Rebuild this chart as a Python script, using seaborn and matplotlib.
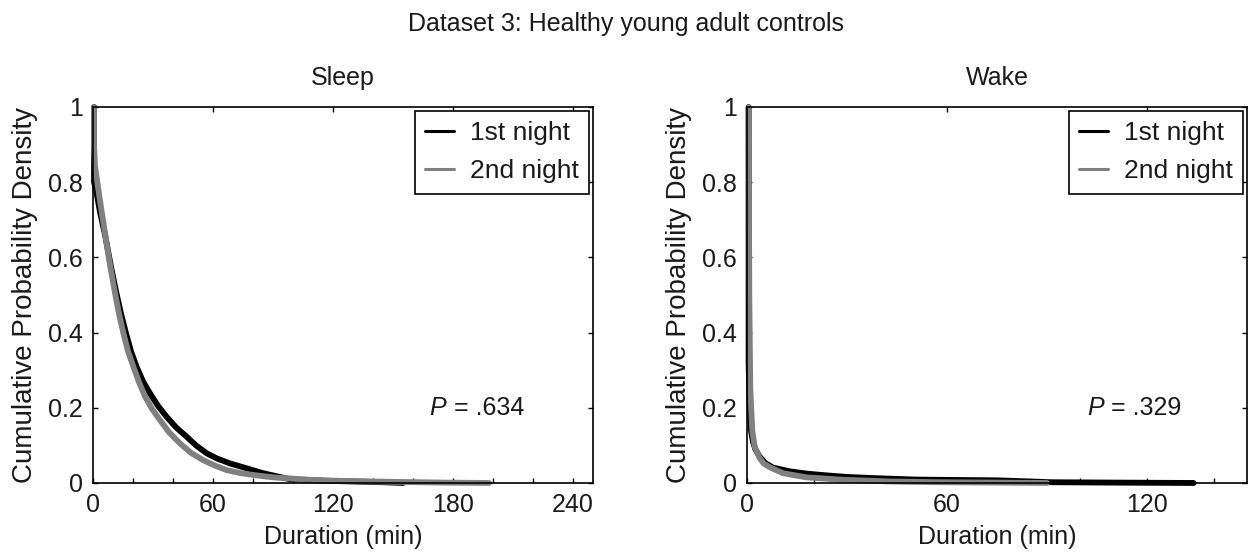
import pandas as pd
import seaborn as sb
import matplotlib.pyplot as plt
from matplotlib.ticker import MultipleLocator

# survival curves (1 - CDF) of bout durations
sleep_n1_x = [0.5, 0.5, 1.5, 3.5, 6, 9, 11.5, 14, 16.5, 19, 21.8, 25, 28.5, 32.5, 36.8, 41.5,
              46.8, 51.5, 56.8, 62, 68.5, 76.8, 85, 98.5, 115, 130, 145, 155]
sleep_n1_y = [1.0, 0.80, 0.78, 0.72, 0.66, 0.575, 0.51, 0.45, 0.398, 0.35, 0.309, 0.27, 0.238,
              0.205, 0.176, 0.148, 0.123, 0.1, 0.079, 0.065, 0.052, 0.039, 0.026, 0.01, 0.006,
              0.004, 0.002, 0.0]
sleep_n2_x = [0.5, 0.5, 1, 3.5, 6, 8.5, 11, 13, 15.2, 17.5, 20.2, 23, 26, 29.5, 33.5, 38, 43.5,
              49, 55, 61, 67, 74, 82, 90, 98.5, 110, 127, 150, 175, 198]
sleep_n2_y = [1.0, 0.9, 0.842, 0.75, 0.664, 0.58, 0.505, 0.45, 0.398, 0.35, 0.309, 0.268, 0.23,
              0.197, 0.167, 0.135, 0.105, 0.08, 0.061, 0.046, 0.034, 0.026, 0.02, 0.015, 0.012,
              0.008, 0.005, 0.003, 0.001, 0.0]

wake_n1_x = [0.5, 0.5, 0.8, 1.2, 1.8, 2.5, 3.8, 5.5, 7.8, 12.8, 17.8, 22.8, 30, 37.8, 50.8, 62,
             75, 85, 91, 110, 134]
wake_n1_y = [1.0, 0.32, 0.2, 0.14, 0.11, 0.09, 0.07, 0.053, 0.041, 0.031, 0.025, 0.021, 0.016,
             0.013, 0.009, 0.008, 0.007, 0.004, 0.002, 0.001, 0.0]
wake_n2_x = [0.5, 0.7, 1.0, 1.6, 2.3, 3.8, 5.0, 6.8, 10.8, 17.8, 27.8, 42.8, 57.8, 75, 90]
wake_n2_y = [1.0, 0.5, 0.25, 0.14, 0.097, 0.0665, 0.052, 0.042, 0.026, 0.015, 0.009, 0.004,
             0.002, 0.001, 0.0]

nights = ["1st night", "2nd night"]
panels = ["Sleep", "Wake"]
p_values = ["= .634", "= .329"]
p_x = [168, 102]
x_limits = [250, 150]
y_ticks = [0, 0.2, 0.4, 0.6, 0.8, 1]
y_labels = ["0", "0.2", "0.4", "0.6", "0.8", "1"]

sb.set_style("ticks")
plt.rcParams["font.family"] = ["Liberation Sans", "DejaVu Sans"]
plt.rcParams["text.color"] = "#1a1a1a"
plt.rcParams["axes.labelcolor"] = "#1a1a1a"
plt.rcParams["xtick.color"] = "black"
plt.rcParams["ytick.color"] = "black"
plt.rcParams["xtick.labelcolor"] = "#1a1a1a"
plt.rcParams["ytick.labelcolor"] = "#1a1a1a"


def make_frame(xs1, ys1, xs2, ys2):
    a = pd.DataFrame({"duration": xs1, "survival": ys1, "night": nights[0]})
    b = pd.DataFrame({"duration": xs2, "survival": ys2, "night": nights[1]})
    return pd.concat([a, b], ignore_index=True)


frames = [make_frame(sleep_n1_x, sleep_n1_y, sleep_n2_x, sleep_n2_y),
          make_frame(wake_n1_x, wake_n1_y, wake_n2_x, wake_n2_y)]

fig = plt.figure(figsize=(12.52, 5.54), dpi=100)
axes = [fig.add_axes([0.0743, 0.1282, 0.3994, 0.6787]),
        fig.add_axes([0.5966, 0.1282, 0.3994, 0.6787])]

for i, ax in enumerate(axes):
    sb.lineplot(data=frames[i], x="duration", y="survival", hue="night",
                hue_order=nights, palette=["black", "#808080"], estimator=None,
                sort=False, linewidth=4.2, ax=ax, clip_on=False)
    ax.set_xlim(0, x_limits[i])
    ax.set_ylim(0, 1)
    ax.xaxis.set_major_locator(MultipleLocator(60))
    ax.xaxis.set_minor_locator(MultipleLocator(20))
    ax.set_yticks(y_ticks)
    ax.set_yticklabels(y_labels)
    ax.tick_params(which="both", direction="in", top=True, right=True,
                   labelsize=18, width=1, length=3.6)
    ax.tick_params(which="minor", top=False)
    ax.tick_params(axis="x", pad=7)
    ax.tick_params(axis="y", pad=7.5)
    for s in ax.spines.values():
        s.set_visible(True)
        s.set_linewidth(1.2)
        s.set_color("black")
    ax.set_xlabel("Duration (min)", fontsize=18, labelpad=6)
    ax.set_ylabel("Cumulative Probability Density", fontsize=20, labelpad=7)
    ax.set_title(panels[i], fontsize=18, pad=16)
    ax.text(p_x[i], 0.2, "P", style="italic", fontsize=18, va="center", ha="left")
    ax.text(p_x[i] + x_limits[i] * 0.035, 0.2, " " + p_values[i], fontsize=18,
            va="center", ha="left")
    leg = ax.legend(loc="upper right", fontsize=19, frameon=True, fancybox=False,
                    edgecolor="black", framealpha=1, borderaxespad=0.15,
                    handlelength=1.1, handletextpad=0.6, borderpad=0.38,
                    labelspacing=0.55)
    leg.get_frame().set_linewidth(1.2)
    for h in leg.get_lines():
        h.set_linewidth(2.2)

fig.suptitle("Dataset 3: Healthy young adult controls", fontsize=18, y=0.978)
fig.savefig("out.png", dpi=100)
